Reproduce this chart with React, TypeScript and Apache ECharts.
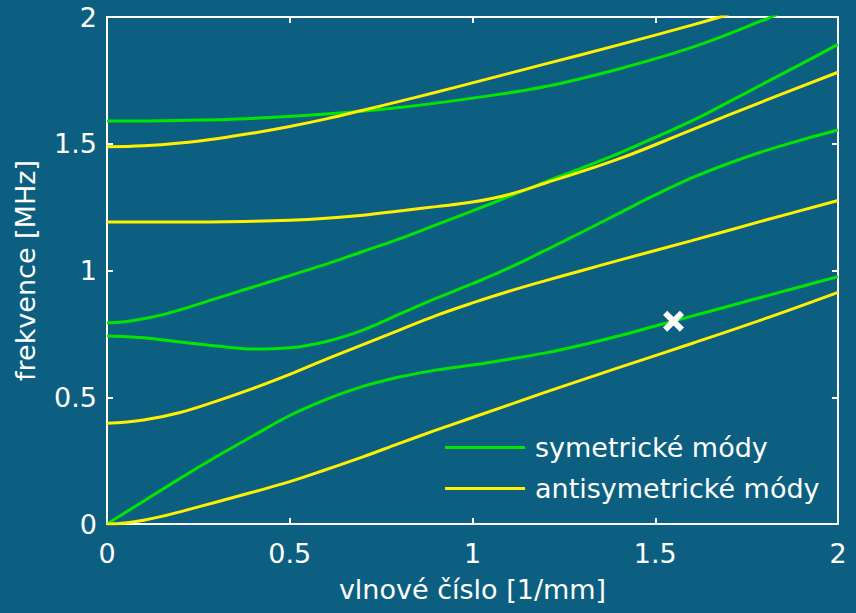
import React, { useEffect, useRef } from "react";
import * as echarts from "echarts";

// x: vlnové číslo [1/mm], y: frekvence [MHz]
const symS0 = [[0,0],[0.1,0.09],[0.2,0.18],[0.3,0.266],[0.4,0.348],[0.5,0.428],[0.6,0.492],[0.7,0.543],[0.8,0.58],[0.9,0.607],[1.0,0.627],[1.1,0.65],[1.2,0.675],[1.3,0.706],[1.4,0.742],[1.5,0.781],[1.6,0.82],[1.7,0.859],[1.8,0.898],[1.9,0.937],[2.0,0.976]];
const symS1 = [[0,0.742],[0.1,0.735],[0.2,0.718],[0.3,0.702],[0.4,0.69],[0.5,0.695],[0.6,0.72],[0.7,0.765],[0.8,0.828],[0.9,0.89],[1.0,0.948],[1.1,1.01],[1.2,1.08],[1.3,1.152],[1.4,1.225],[1.5,1.298],[1.6,1.365],[1.7,1.422],[1.8,1.472],[1.9,1.515],[2.0,1.554]];
const symS2 = [[0,0.794],[0.05,0.798],[0.1,0.81],[0.15,0.825],[0.2,0.845],[0.3,0.89],[0.4,0.935],[0.5,0.98],[0.6,1.025],[0.7,1.075],[0.8,1.125],[0.9,1.18],[1.0,1.235],[1.1,1.292],[1.2,1.35],[1.3,1.405],[1.4,1.462],[1.5,1.525],[1.6,1.59],[1.7,1.664],[1.8,1.74],[1.9,1.815],[2.0,1.892]];
const symS3 = [[0,1.59],[0.2,1.592],[0.4,1.6],[0.6,1.617],[0.8,1.643],[1.0,1.68],[1.2,1.726],[1.4,1.795],[1.6,1.88],[1.8,1.99],[1.85,2.02]];

const antiA0 = [[0,0],[0.05,0.004],[0.1,0.015],[0.15,0.03],[0.2,0.048],[0.3,0.087],[0.4,0.126],[0.5,0.167],[0.6,0.215],[0.7,0.265],[0.8,0.318],[0.9,0.37],[1.0,0.42],[1.2,0.52],[1.4,0.617],[1.6,0.712],[1.8,0.81],[2.0,0.914]];
const antiA1 = [[0,0.397],[0.1,0.41],[0.2,0.44],[0.3,0.485],[0.4,0.535],[0.5,0.59],[0.6,0.65],[0.7,0.708],[0.8,0.765],[0.9,0.822],[1.0,0.872],[1.1,0.918],[1.2,0.96],[1.3,1.0],[1.4,1.04],[1.6,1.118],[1.8,1.198],[2.0,1.276]];
const antiA2 = [[0,1.191],[0.2,1.191],[0.4,1.194],[0.5,1.198],[0.6,1.206],[0.7,1.218],[0.8,1.235],[0.9,1.252],[1.0,1.27],[1.1,1.3],[1.2,1.345],[1.4,1.44],[1.6,1.555],[1.8,1.67],[2.0,1.782]];
const antiA3 = [[0,1.488],[0.1,1.492],[0.2,1.503],[0.3,1.52],[0.4,1.542],[0.5,1.568],[0.6,1.598],[0.7,1.632],[0.8,1.667],[0.9,1.703],[1.0,1.74],[1.2,1.815],[1.4,1.89],[1.6,1.968],[1.7,2.01]];

const markerPoint = [[1.55, 0.8]];

const symName = "symetrické módy";
const antiName = "antisymetrické módy";
const xTitle = "vlnové číslo [1/mm]";
const yTitle = "frekvence [MHz]";

const BG = "#0c5f80";
const GREEN = "#00e600";
const YELLOW = "#fff000";
const FONT = "'DejaVu Sans', sans-serif";

export default function App() {
  const ref = useRef<HTMLDivElement>(null);
  useEffect(() => {
    document.body.style.margin = "0";
    document.body.style.background = BG;
    const chart = echarts.init(ref.current!, null, { renderer: "svg" });
    const lineSeries = (name: string, data: number[][], color: string) => ({
      type: "line",
      name,
      data,
      smooth: 0.4,
      showSymbol: false,
      symbol: "none",
      clip: true,
      lineStyle: { color, width: 3 },
      itemStyle: { color },
      z: 3,
    });
    const axisCommon = {
      type: "value",
      min: 0,
      max: 2,
      interval: 0.5,
      splitLine: { show: false },
      axisLine: { show: true, onZero: false, lineStyle: { color: "#fff", width: 2 } },
      axisTick: { show: true, inside: true, length: 6, lineStyle: { color: "#fff", width: 2 } },
    };
    chart.setOption({
      animation: false,
      backgroundColor: BG,
      textStyle: { fontFamily: FONT },
      grid: { left: 107, right: 18, top: 17, bottom: 89, containLabel: false },
      legend: {
        data: [symName, antiName],
        orient: "vertical",
        left: 445,
        top: 434,
        padding: 0,
        icon: "rect",
        itemWidth: 80,
        itemHeight: 3,
        itemGap: 14,
        selectedMode: false,
        textStyle: { color: "#fff", fontSize: 27, fontFamily: FONT, padding: [0, 0, 0, 5] },
      },
      xAxis: [
        {
          ...axisCommon,
          position: "bottom",
          name: xTitle,
          nameLocation: "middle",
          nameGap: 52,
          nameTextStyle: { color: "#fff", fontSize: 27, fontFamily: FONT },
          axisLabel: { color: "#fff", fontSize: 27, fontFamily: FONT, margin: 16 },
        },
        {
          ...axisCommon,
          position: "top",
          axisLabel: { show: false },
        },
      ],
      yAxis: [
        {
          ...axisCommon,
          position: "left",
          name: yTitle,
          nameLocation: "middle",
          nameGap: 68,
          nameTextStyle: { color: "#fff", fontSize: 27, fontFamily: FONT },
          axisLabel: { color: "#fff", fontSize: 27, fontFamily: FONT, margin: 10 },
        },
        {
          ...axisCommon,
          position: "right",
          axisLabel: { show: false },
        },
      ],
      series: [
        lineSeries(symName, symS0, GREEN),
        lineSeries(symName, symS1, GREEN),
        lineSeries(symName, symS2, GREEN),
        lineSeries(symName, symS3, GREEN),
        lineSeries(antiName, antiA0, YELLOW),
        lineSeries(antiName, antiA1, YELLOW),
        lineSeries(antiName, antiA2, YELLOW),
        lineSeries(antiName, antiA3, YELLOW),
        {
          type: "scatter",
          name: "marker",
          data: markerPoint,
          symbol: "path://M2,0 L5,3 L8,0 L10,2 L7,5 L10,8 L8,10 L5,7 L2,10 L0,8 L3,5 L0,2 Z",
          symbolSize: 21,
          itemStyle: { color: "#ffffff", opacity: 1 },
          z: 5,
        },
      ],
    });
    return () => chart.dispose();
  }, []);
  return (
    <div
      ref={ref}
      style={{ position: "fixed", left: 0, top: 0, width: 856, height: 613 }}
    />
  );
}
